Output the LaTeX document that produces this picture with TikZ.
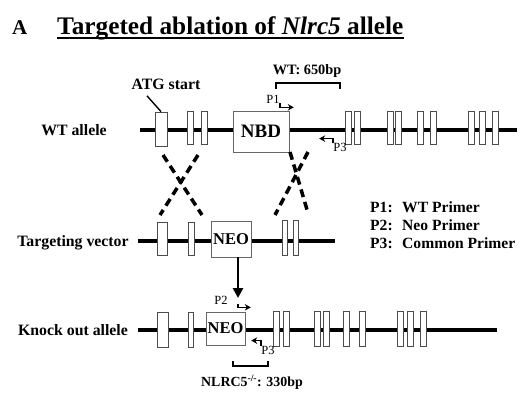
\documentclass[tikz,border=0pt]{standalone}
\usepackage{fontspec}
\setmainfont{Liberation Serif}
\usetikzlibrary{arrows.meta}

\begin{document}
\begin{tikzpicture}[x=1pt,y=-1pt,
    exon/.style={draw=black!70,fill=white,line width=0.8pt,inner sep=0pt,minimum width=#1,minimum height=33pt},
    exon/.default=6pt,
    boite/.style={draw=black!60,fill=white,line width=0.8pt,inner sep=0pt,font=\fontsize{16.5}{18}\selectfont\bfseries},
    brin/.style={line width=4.5pt},
    croisement/.style={line width=3.5pt,dash pattern=on 8pt off 5pt},
    amorce/.style={line width=1.5pt,-{Stealth[length=6pt,width=6.5pt]}},
    crochet/.style={line width=1.4pt},
    etiquette/.style={anchor=base,font=\fontsize{15.8}{18}\selectfont\bfseries},
    petit/.style={inner sep=0pt,font=\fontsize{12.5}{14}\selectfont},
    legende/.style={anchor=base west,inner sep=0pt,font=\fontsize{15.6}{18}\selectfont\bfseries}]
    \useasboundingbox (0,0) rectangle (527,400);

    % Titre
    \node[anchor=base west,inner sep=0pt,font=\fontsize{21}{24}\selectfont\bfseries] (lettre) at (12,34) {A};
    \node[anchor=base west,inner sep=0pt,font=\fontsize{25.3}{28}\selectfont\bfseries] (titre) at (57,34) {Targeted ablation of \textit{Nlrc5} allele};
    \draw[line width=1.6pt] ([yshift=-4pt]titre.base west) -- ([yshift=-4pt]titre.base east);

    % Allele sauvage
    \node[etiquette] (lwt) at (74,135.5) {WT allele};
    \draw[brin] (140,130) -- (517,130);
    \node[exon=12pt,minimum height=34pt] (atgex) at (161,129) {};
    \foreach \x [count=\i] in {190,204,348,357,390,398,420,433,471,482,495}
        \node[exon] (wt\i) at (\x,128) {};
    \node[boite,minimum width=56pt,minimum height=41pt,font=\fontsize{19}{21}\selectfont\bfseries] (nbd) at (261,131.5) {NBD};
    \node[font=\fontsize{15.8}{18}\selectfont\bfseries] (atg) at (166,84) {ATG start};
    \draw[line width=1.4pt] ([xshift=-19pt,yshift=-3pt]atg.south) -- (atgex.north);

    % Amorces P1 et P3, produit de 650bp
    \node[petit] (p1) at (273,99) {P1};
    \draw[amorce] (p1.south east) |- ++(14,4);
    \node[petit] (p3wt) at (340,147) {P3};
    \draw[amorce] (p3wt.north west) |- ++(-14,-4);
    \draw[crochet] (276,89) |- (340,83) -- (340,89);
    \node[font=\fontsize{14.3}{16}\selectfont\bfseries] (wtpb) at (307,71) {WT: 650bp};

    % Recombinaison
    \coordinate (cA1) at (163,155); \coordinate (cA2) at (202,215);
    \coordinate (cB1) at (198,155); \coordinate (cB2) at (160,215);
    \coordinate (cC1) at (290,152); \coordinate (cC2) at (308,213);
    \coordinate (cD1) at (308,152); \coordinate (cD2) at (275,215);
    \draw[croisement] (cA1) -- (cA2);
    \draw[croisement] (cB1) -- (cB2);
    \draw[croisement] (cC1) -- (cC2);
    \draw[croisement] (cD1) -- (cD2);

    % Vecteur de ciblage
    \node[etiquette] (ltv) at (73,246.5) {Targeting vector};
    \draw[brin] (138,241) -- (335,241);
    \node[exon=10pt] (tv0) at (162,238.5) {};
    \node[exon] (tv1) at (191,238.5) {};
    \node[exon=5pt,minimum height=35pt] (tv2) at (285,237.5) {};
    \node[exon=5pt,minimum height=35pt] (tv3) at (295.5,237.5) {};
    \node[boite,minimum width=40pt,minimum height=36pt] (neotv) at (231,239) {NEO};

    % Legende
    \node[legende] (leg1) at (370,212) {\makebox[32pt][l]{P1:}WT Primer};
    \node[legende] (leg2) at (370,230) {\makebox[32pt][l]{P2:}Neo Primer};
    \node[legende] (leg3) at (370,248) {\makebox[32pt][l]{P3:}Common Primer};

    % Fleche vers l'allele invalide
    \coordinate (pointe) at (238,298);
    \draw[line width=2.5pt,-{Triangle[length=10pt,width=10pt]}] (neotv.south -| pointe) -- (pointe);

    % Allele invalide
    \node[etiquette] (lko) at (73,335.5) {Knock out allele};
    \draw[brin] (138,330) -- (497,330);
    \node[exon=11pt,minimum height=35pt] (ko0) at (162.5,329.5) {};
    \node[exon=5pt,minimum height=35pt] (ko1) at (190.5,329.5) {};
    \foreach \x [count=\i from 2] in {276,286,317.5,326.5,346.5,362,400,410.5,423.5}
        \node[exon,minimum height=35pt] (ko\i) at (\x,328.5) {};
    \node[boite,minimum width=39pt,minimum height=33pt] (neoko) at (225.5,328.5) {NEO};

    % Amorces P2 et P3, produit de 330bp
    \node[petit] (p2) at (221,300) {P2};
    \draw[amorce] ([xshift=10pt]p2.south east) |- ++(13,3);
    \node[petit] (p3ko) at (268,350) {P3};
    \draw[amorce] (p3ko.north west) |- ++(-10,-5);
    \draw[crochet] (233,361) |- (268,366) -- (268,361);
    \node[font=\fontsize{13.9}{16}\selectfont\bfseries] (kopb) at (252,382) {NLRC5\textsuperscript{-/-}: 330bp};

\end{tikzpicture}
\end{document}
